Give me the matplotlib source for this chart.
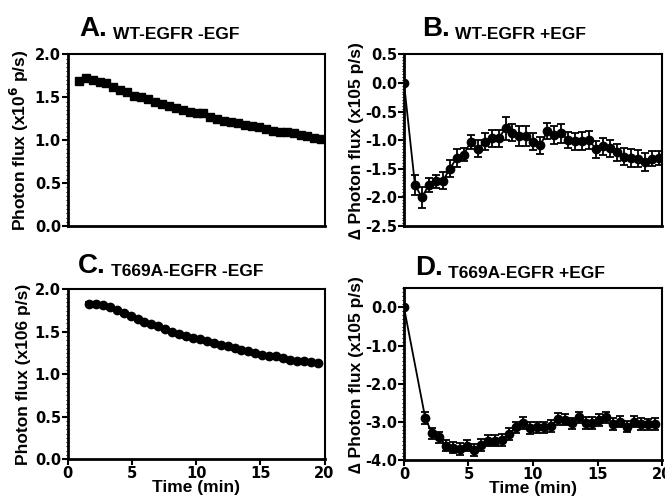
import numpy as np
import matplotlib
matplotlib.use("Agg")
import matplotlib.pyplot as plt
from matplotlib.ticker import AutoMinorLocator

plt.rcParams['font.family'] = ['Liberation Sans', 'DejaVu Sans']
plt.rcParams['font.weight'] = 'bold'

# time points (min)
t_ab = [0.85 + 0.54 * k for k in range(36)]
t_cd = [1.65 + 0.54 * k for k in range(34)]

# A. WT-EGFR -EGF
a_val = [1.69, 1.72, 1.70, 1.68, 1.66, 1.62, 1.59, 1.56, 1.52, 1.50, 1.48, 1.45,
         1.42, 1.40, 1.38, 1.35, 1.33, 1.32, 1.32, 1.27, 1.25, 1.22, 1.21, 1.20,
         1.18, 1.17, 1.15, 1.13, 1.11, 1.10, 1.10, 1.08, 1.06, 1.05, 1.03, 1.01]
a_err = [0.03] * 36

# B. WT-EGFR +EGF
b_time = [0.0] + t_ab
b_val = [0.0, -1.78, -2.00, -1.78, -1.72, -1.71, -1.50, -1.31, -1.25, -1.03, -1.15,
         -1.03, -0.97, -0.97, -0.79, -0.87, -0.93, -0.93, -1.03, -1.09, -0.84,
         -0.91, -0.88, -1.00, -1.02, -1.01, -1.00, -1.16, -1.11, -1.14, -1.21,
         -1.29, -1.31, -1.32, -1.38, -1.32, -1.31]
b_err = [0.02, 0.17, 0.18, 0.12, 0.12, 0.15, 0.15, 0.15, 0.12, 0.12, 0.15, 0.15,
         0.15, 0.15, 0.2, 0.15, 0.17, 0.17, 0.15, 0.15, 0.14, 0.16, 0.17, 0.14,
         0.15, 0.16, 0.16, 0.15, 0.15, 0.15, 0.15, 0.15, 0.15, 0.15, 0.15, 0.13, 0.12]

# C. T669A-EGFR -EGF
c_val = [1.83, 1.83, 1.81, 1.79, 1.76, 1.72, 1.69, 1.65, 1.62, 1.59, 1.57, 1.53,
         1.50, 1.47, 1.45, 1.43, 1.41, 1.39, 1.37, 1.35, 1.33, 1.31, 1.29, 1.27,
         1.25, 1.23, 1.22, 1.21, 1.19, 1.17, 1.16, 1.16, 1.15, 1.13]
c_err = [0.02] * 34

# D. T669A-EGFR +EGF
d_time = [0.0] + t_cd
d_val = [0.0, -2.90, -3.30, -3.40, -3.62, -3.67, -3.71, -3.62, -3.73, -3.60, -3.49,
         -3.49, -3.47, -3.32, -3.14, -3.03, -3.16, -3.14, -3.14, -3.10, -2.92,
         -2.94, -3.04, -2.88, -3.03, -3.03, -2.95, -2.88, -3.05, -2.99, -3.12,
         -2.99, -3.05, -3.06, -3.05]
d_err = [0.03] + [0.15] * 34

fig = plt.figure(figsize=(6.65, 4.98), dpi=100)
axA = fig.add_axes([0.102, 0.546, 0.386, 0.345])
axB = fig.add_axes([0.6075, 0.546, 0.388, 0.345])
axC = fig.add_axes([0.102, 0.078, 0.386, 0.341])
axD = fig.add_axes([0.6075, 0.076, 0.388, 0.345])

eb = dict(color='black', ecolor='black', elinewidth=1.3, capsize=3, capthick=1.3, lw=1.3)
axA.errorbar(t_ab, a_val, yerr=a_err, fmt='-s', ms=6, **eb)
axB.errorbar(b_time, b_val, yerr=b_err, fmt='-o', ms=6, **eb)
axC.errorbar(t_cd, c_val, yerr=c_err, fmt='-o', ms=6, **eb)
axD.errorbar(d_time, d_val, yerr=d_err, fmt='-o', ms=6, **eb)

tick_font = {'family': 'DejaVu Sans', 'weight': 'bold', 'size': 10.5}

def set_ticks(ax, axis, vals, labels):
    if axis == 'y':
        ax.set_yticks(vals)
        ax.set_yticklabels(labels, fontdict=tick_font)
    else:
        ax.set_xticks(vals)
        ax.set_xticklabels(labels, fontdict=tick_font)

for ax in (axA, axB, axC, axD):
    ax.set_xlim(0, 20)
    for s in ('left', 'bottom'):
        ax.spines[s].set_linewidth(2)
    for s in ('top', 'right'):
        ax.spines[s].set_linewidth(1.5)
    ax.tick_params(axis='both', which='major', direction='out', width=1.5, length=4, pad=1)
    ax.yaxis.set_minor_locator(AutoMinorLocator(10))
    ax.tick_params(axis='y', which='minor', direction='out', width=0.8, length=1.5)

axA.set_ylim(0, 2.0)
axC.set_ylim(0, 2.0)
for ax in (axA, axC):
    set_ticks(ax, 'y', [0, 0.5, 1.0, 1.5, 2.0], ['0.0', '0.5', '1.0', '1.5', '2.0'])
axB.set_ylim(-2.5, 0.5)
set_ticks(axB, 'y', [-2.5, -2.0, -1.5, -1.0, -0.5, 0.0, 0.5],
          ['-2.5', '-2.0', '-1.5', '-1.0', '-0.5', '0.0', '0.5'])
axD.set_ylim(-4.0, 0.5)
set_ticks(axD, 'y', [-4, -3, -2, -1, 0], ['-4.0', '-3.0', '-2.0', '-1.0', '0.0'])

for ax in (axA, axB):
    ax.set_xticks([])
for ax in (axC, axD):
    set_ticks(ax, 'x', [0, 5, 10, 15, 20], ['0', '5', '10', '15', '20'])
    ax.set_xlabel('Time (min)', fontsize=12.5, fontweight='bold', labelpad=-1)

axA.set_ylabel('Photon flux (x10$^\\mathbf{6}$ p/s)', fontsize=12.5, fontweight='bold', labelpad=3)
axC.set_ylabel('Photon flux (x106 p/s)', fontsize=12.5, fontweight='bold', labelpad=3)
axB.set_ylabel('\u2206 Photon flux (x105 p/s)', fontsize=12.5, fontweight='bold', labelpad=1)
axD.set_ylabel('\u2206 Photon flux (x105 p/s)', fontsize=12.5, fontweight='bold', labelpad=1)

titles = [(axA, 'A.', 'WT-EGFR -EGF', 0.045, 1.105),
          (axB, 'B.', 'WT-EGFR +EGF', 0.07, 1.105),
          (axC, 'C.', 'T669A-EGFR -EGF', 0.04, 1.094),
          (axD, 'D.', 'T669A-EGFR +EGF', 0.043, 1.08)]
for ax, letter, sub, xl, yb in titles:
    lt = ax.text(xl, yb, letter, transform=ax.transAxes, fontsize=20, fontweight='bold',
                 va='baseline', ha='left')
    ax.annotate(sub, xy=(1, 0), xycoords=lt, xytext=(4, 0), textcoords='offset points',
                fontsize=12.5, fontweight='bold', va='bottom', ha='left')

fig.savefig('out.png', dpi=100)
